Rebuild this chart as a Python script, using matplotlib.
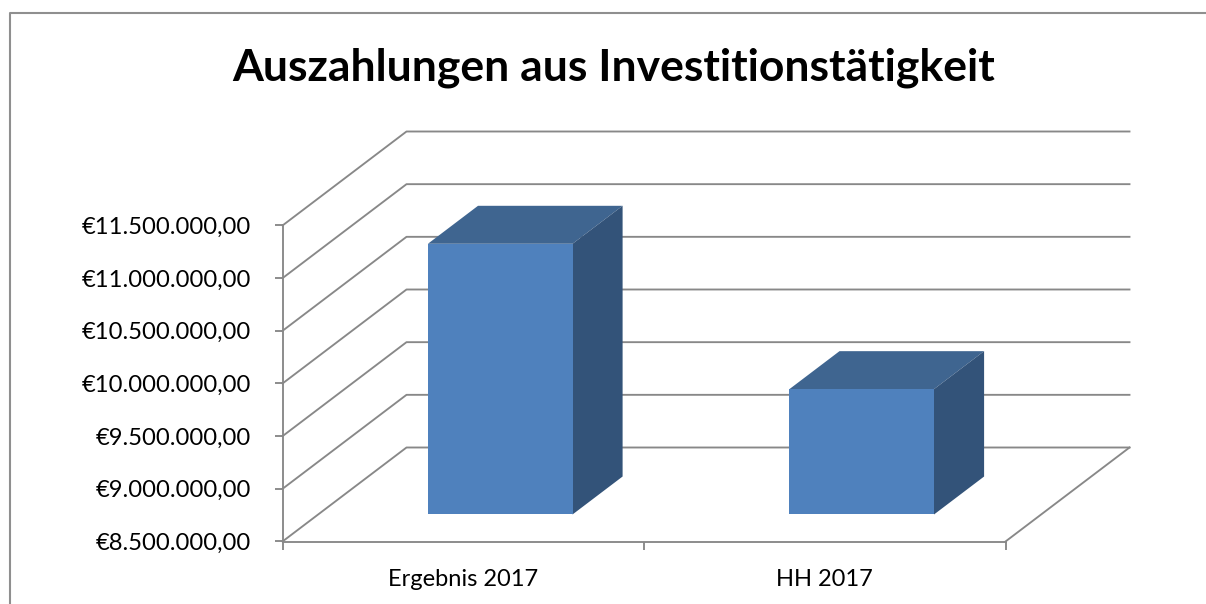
import matplotlib
matplotlib.use("Agg")
import matplotlib.pyplot as plt
from matplotlib.lines import Line2D
from matplotlib.patches import Polygon
from matplotlib.ticker import FuncFormatter
from matplotlib.transforms import Affine2D, IdentityTransform

title = "Auszahlungen aus Investitionstätigkeit"
categories = ["Ergebnis 2017", "HH 2017"]
values = [11070000, 9690000]
y_ticks = [8500000, 9000000, 9500000, 10000000, 10500000, 11000000, 11500000]

W, H = 1206, 604
plt.rcParams["font.family"] = ["Lato", "DejaVu Sans"]
fig = plt.figure(figsize=(W / 100, H / 100), dpi=100, facecolor="white")

L, R, T, B = 282.5, 1005.5, 225.5, 541.5
ax = fig.add_axes([L / W, 1 - B / H, (R - L) / W, (B - T) / H])
ax.patch.set_visible(False)
ax.set_xlim(0, len(categories))
ax.set_ylim(y_ticks[0], y_ticks[-1])

GRID = "#888888"
LW = 1.35
DX, DY = 124, 94          # depth of the chart box in pixels
D0, D1 = 0.298, 0.702     # front / back of the bars, as fraction of the depth
BAR_W = 0.4
BAR_DROP = 1              # pixels the bar sits below its nominal depth line


def proj(x, v, d=0.0, drop=0):
    px, py = ax.transData.transform((x, v))
    return (px + d * DX, py + d * DY - drop)


# outer chart frame (open on right and bottom)
fig.add_artist(Line2D([10 / W, 10 / W, 1], [0, 1 - 13 / H, 1 - 13 / H],
                      transform=fig.transFigure, color="#8f8f8f", lw=1.5))

# wall / floor lines
for v in y_ticks:
    pts = [proj(0, v), proj(0, v, 1), proj(len(categories), v, 1)]
    ax.add_line(Line2D(*zip(*pts), transform=IdentityTransform(), color=GRID,
                       lw=LW, clip_on=False, zorder=1))
pts = [proj(len(categories), y_ticks[0]), proj(len(categories), y_ticks[0], 1)]
ax.add_line(Line2D(*zip(*pts), transform=IdentityTransform(), color=GRID,
                   lw=LW, clip_on=False, zorder=1))

# bars: front through the axes, shifted into the depth, then top and side
xs = [i + 0.5 for i in range(len(categories))]
front_tf = ax.transData + Affine2D().translate(D0 * DX, D0 * DY - BAR_DROP)
ax.bar(xs, [v - y_ticks[0] for v in values], bottom=y_ticks[0], width=BAR_W,
       color="#4F81BD", transform=front_tf, clip_on=False, zorder=3)
for x, v in zip(xs, values):
    x0, x1 = x - BAR_W / 2, x + BAR_W / 2
    base = y_ticks[0]
    top = [proj(x0, v, D0, BAR_DROP), proj(x1, v, D0, BAR_DROP),
           proj(x1, v, D1, BAR_DROP), proj(x0, v, D1, BAR_DROP)]
    side = [proj(x1, base, D0, BAR_DROP), proj(x1, v, D0, BAR_DROP),
            proj(x1, v, D1, BAR_DROP), proj(x1, base, D1, BAR_DROP)]
    ax.add_patch(Polygon(top, closed=True, facecolor="#3F6590", edgecolor="none",
                         transform=IdentityTransform(), clip_on=False, zorder=2))
    ax.add_patch(Polygon(side, closed=True, facecolor="#335379", edgecolor="none",
                         transform=IdentityTransform(), clip_on=False, zorder=2))

# axes
for s in ("top", "right"):
    ax.spines[s].set_visible(False)
for s in ("left", "bottom"):
    ax.spines[s].set_color(GRID)
    ax.spines[s].set_linewidth(LW)
    ax.spines[s].set_zorder(1)


def euro(v, _pos=None):
    return "€" + f"{v:,.2f}".replace(",", "X").replace(".", ",").replace("X", ".")


ax.set_yticks(y_ticks)
ax.yaxis.set_major_formatter(FuncFormatter(euro))
ax.set_xticks(range(len(categories) + 1))
ax.set_xticklabels([])
ax.set_xticks(xs, minor=True)
ax.set_xticklabels(categories, minor=True)
ax.tick_params(axis="x", which="minor", length=0, pad=19.5, labelsize=17, labelcolor="black")
ax.tick_params(axis="x", which="major", length=5.8, width=LW, color=GRID)
ax.tick_params(axis="y", length=5.8, width=LW, color=GRID, pad=17, labelsize=17.1, labelcolor="black")

fig.text(613.5 / W, 1 - 67.5 / H, title, ha="center", va="center",
         fontsize=32, fontweight="bold", color="black")

fig.savefig("out.png", dpi=100)
